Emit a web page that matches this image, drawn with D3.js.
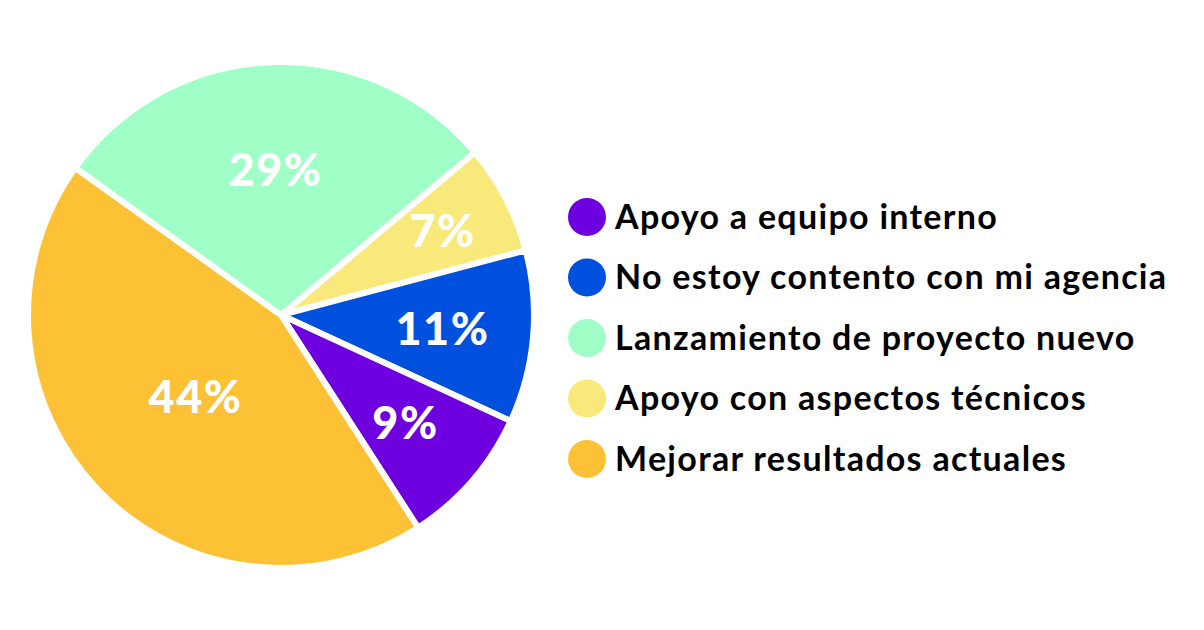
<!DOCTYPE html>
<html><head><meta charset="utf-8">
<script src="https://cdn.jsdelivr.net/npm/d3@7"></script>
<style>html,body{margin:0;padding:0;background:#fff;}</style>
</head><body>
<svg id="chart" width="1204" height="630"></svg>
<script>
// Data
const categories = ["Apoyo a equipo interno","No estoy contento con mi agencia","Lanzamiento de proyecto nuevo","Apoyo con aspectos técnicos","Mejorar resultados actuales"];
const values = [9, 11, 29, 7, 44];
const labels = ["9%","11%","29%","7%","44%"];
const colors = ["#6E00E0","#0050E0","#9FFFC6","#F9E97A","#FDC135"];
// clockwise drawing order of slices (indexes into categories)
const pieOrder = [3, 1, 0, 4, 2];

const svg = d3.select("#chart");
const cx = 281, cy = 315, R = 253;
const g = svg.append("g").attr("transform", `translate(${cx},${cy})`);

const ordered = pieOrder.map(i => ({i, name: categories[i], value: values[i], label: labels[i], color: colors[i]}));
const pie = d3.pie().sort(null).value(d => d.value)
  .startAngle(50 * Math.PI / 180).endAngle(50 * Math.PI / 180 + 2 * Math.PI);
const arcs = pie(ordered);
const arc = d3.arc().innerRadius(0).outerRadius(R);

g.selectAll("path.slice").data(arcs).join("path")
  .attr("class","slice")
  .attr("d", arc)
  .attr("fill", d => d.data.color)
  .attr("stroke","#fff").attr("stroke-width",6).attr("stroke-linejoin","round");

// label radius per slice (layout)
const labelR = {"7%":182, "11%":162, "9%":165, "44%":118, "29%":145};
g.selectAll("text.pct").data(arcs).join("text")
  .attr("class","pct")
  .attr("transform", d => {
    const a = (d.startAngle + d.endAngle) / 2;
    const r = labelR[d.data.label];
    return `translate(${r * Math.sin(a)},${-r * Math.cos(a)})`;
  })
  .attr("text-anchor","middle").attr("dy","0.36em")
  .attr("fill","#fff")
  .style("font-family","Lato, 'DejaVu Sans', sans-serif")
  .style("font-weight",900).style("font-size","45px").style("letter-spacing","1.5px")
  .text(d => d.data.label);

// Legend
const ly = d3.scalePoint().domain(categories).range([217, 459]);
const leg = svg.append("g");
const items = leg.selectAll("g").data(categories).join("g")
  .attr("transform", d => `translate(587,${ly(d)})`);
items.append("circle").attr("r",19).attr("fill",(d,i)=>colors[i]);
items.append("text").attr("x",28).attr("dy","0.35em")
  .attr("fill","#000")
  .style("font-family","Lato, 'DejaVu Sans', sans-serif")
  .style("font-weight",700).style("font-size","34px").style("letter-spacing","1.3px")
  .text(d => d);
</script>
</body></html>
